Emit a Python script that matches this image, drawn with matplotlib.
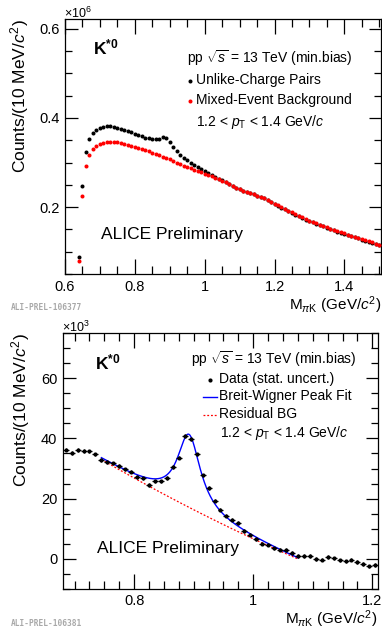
import numpy as np
import matplotlib
matplotlib.use("Agg")
import matplotlib.pyplot as plt
from matplotlib.ticker import MultipleLocator, FuncFormatter
from matplotlib.lines import Line2D

plt.rcParams['font.family'] = ['Liberation Sans', 'DejaVu Sans']
plt.rcParams['mathtext.fontset'] = 'custom'
plt.rcParams['mathtext.rm'] = 'Liberation Sans'
plt.rcParams['mathtext.it'] = 'Liberation Sans:italic'
plt.rcParams['mathtext.bf'] = 'Liberation Sans:bold'

# ---------------- data: top panel (x10^6 counts) ----------------
mass_top = [0.64, 0.65, 0.66, 0.67, 0.68, 0.69, 0.70, 0.71, 0.72, 0.73,
            0.74, 0.75, 0.76, 0.77, 0.78, 0.79, 0.80, 0.81, 0.82, 0.83,
            0.84, 0.85, 0.86, 0.87, 0.88, 0.89, 0.90, 0.91, 0.92, 0.93,
            0.94, 0.95, 0.96, 0.97, 0.98, 0.99, 1.00, 1.01, 1.02, 1.03,
            1.04, 1.05, 1.06, 1.07, 1.08, 1.09, 1.10, 1.11, 1.12, 1.13,
            1.14, 1.15, 1.16, 1.17, 1.18, 1.19, 1.20, 1.21, 1.22, 1.23,
            1.24, 1.25, 1.26, 1.27, 1.28, 1.29, 1.30, 1.31, 1.32, 1.33,
            1.34, 1.35, 1.36, 1.37, 1.38, 1.39, 1.40, 1.41, 1.42, 1.43,
            1.44, 1.45, 1.46, 1.47, 1.48, 1.49, 1.50]
unlike = [0.089, 0.248, 0.324, 0.352, 0.366, 0.373, 0.377, 0.380, 0.381, 0.381,
          0.380, 0.378, 0.376, 0.374, 0.371, 0.368, 0.365, 0.362, 0.359, 0.356,
          0.354, 0.352, 0.352, 0.353, 0.357, 0.355, 0.346, 0.336, 0.326, 0.318,
          0.311, 0.305, 0.299, 0.295, 0.290, 0.286, 0.281, 0.277, 0.272, 0.268,
          0.264, 0.260, 0.256, 0.252, 0.248, 0.244, 0.240, 0.237, 0.234, 0.231,
          0.229, 0.226, 0.223, 0.220, 0.216, 0.212, 0.207, 0.203, 0.199, 0.195,
          0.191, 0.187, 0.183, 0.179, 0.176, 0.172, 0.169, 0.166, 0.163, 0.160,
          0.157, 0.154, 0.151, 0.148, 0.145, 0.143, 0.140, 0.137, 0.135, 0.132,
          0.130, 0.127, 0.125, 0.122, 0.120, 0.117, 0.115]
mixed = [0.080, 0.225, 0.292, 0.318, 0.330, 0.337, 0.341, 0.344, 0.345, 0.346,
         0.346, 0.345, 0.344, 0.342, 0.340, 0.338, 0.336, 0.333, 0.331, 0.328,
         0.325, 0.322, 0.319, 0.316, 0.313, 0.310, 0.307, 0.304, 0.300, 0.297,
         0.293, 0.290, 0.287, 0.284, 0.281, 0.278, 0.275, 0.272, 0.269, 0.266,
         0.263, 0.259, 0.256, 0.252, 0.248, 0.244, 0.240, 0.237, 0.234, 0.231,
         0.229, 0.226, 0.223, 0.220, 0.216, 0.212, 0.208, 0.204, 0.200, 0.196,
         0.192, 0.188, 0.184, 0.180, 0.177, 0.173, 0.170, 0.167, 0.164, 0.161,
         0.158, 0.155, 0.152, 0.149, 0.146, 0.144, 0.141, 0.138, 0.136, 0.133,
         0.131, 0.128, 0.126, 0.123, 0.121, 0.118, 0.116]

# ---------------- data: bottom panel (x10^3 counts) ----------------
mass_bot = [0.685, 0.695, 0.705, 0.715, 0.725, 0.735, 0.745, 0.755, 0.765, 0.775,
            0.785, 0.795, 0.805, 0.815, 0.825, 0.835, 0.845, 0.855, 0.865, 0.875,
            0.885, 0.895, 0.905, 0.915, 0.925, 0.935, 0.945, 0.955, 0.965, 0.975,
            0.985, 0.995, 1.005, 1.015, 1.025, 1.035, 1.045, 1.055, 1.065, 1.075,
            1.085, 1.095, 1.105, 1.115, 1.125, 1.135, 1.145, 1.155, 1.165, 1.175,
            1.185, 1.195, 1.205]
signal = [36.3, 35.2, 36.1, 35.9, 35.7, 34.7, 32.8, 32.1, 31.7, 30.8,
          29.7, 29.0, 27.1, 26.7, 24.6, 25.7, 25.7, 26.9, 30.6, 33.6,
          40.8, 39.9, 34.7, 27.7, 23.6, 19.3, 16.3, 14.3, 13.0, 11.9,
          9.3, 8.0, 6.6, 5.0, 4.7, 3.4, 3.0, 2.8, 1.9, 0.8,
          0.8, 0.8, -0.1, -0.3, 0.6, 0.1, -0.6, -0.9, -0.3, -1.2,
          -1.7, -2.6, -2.1]
stat_err = 0.6
bin_half = 0.005

# fit parameters (Breit-Wigner + quadratic residual background)
fit_range = (0.745, 1.075)
bw_mass = 0.892
bw_width = 0.047
bw_amp = 24.3
bg_x0 = 0.745
bg_coef = (33.0, -114.7, 43.75)

W, H = 382, 630
fig = plt.figure(figsize=(W / 100, H / 100), dpi=100)


def fx(px):
    return px / W


def fy(py):
    return 1 - py / H


def style_axes(ax, xmaj, xmin, ymaj, ymin):
    ax.xaxis.set_major_locator(MultipleLocator(xmaj))
    ax.xaxis.set_minor_locator(MultipleLocator(xmin))
    ax.yaxis.set_major_locator(MultipleLocator(ymaj))
    ax.yaxis.set_minor_locator(MultipleLocator(ymin))
    ax.tick_params(which='both', direction='in', top=True, right=True,
                   width=0.9, labelsize=10.5, pad=4)
    ax.tick_params(axis='x', which='major', length=11)
    ax.tick_params(axis='x', which='minor', length=5.5)
    ax.tick_params(axis='y', which='major', length=9)
    ax.tick_params(axis='y', which='minor', length=5)
    for s in ax.spines.values():
        s.set_linewidth(0.9)


def fmt(v, pos):
    s = f"{v:.1f}"
    if abs(v - round(v)) < 1e-9:
        s = f"{int(round(v))}"
    return s


# ---------------- top panel ----------------
ax1 = fig.add_axes([fx(65), fy(274), fx(381) - fx(65), fy(19) - fy(274)])
ax1.plot(mass_top, unlike, 'o', color='black', ms=2.9, mew=0, zorder=3)
ax1.plot(mass_top, mixed, 'o', color='#ff0000', ms=2.9, mew=0, zorder=4)
ax1.set_xlim(0.6, 1.505)
ax1.set_ylim(0.05, 0.622)
style_axes(ax1, 0.2, 0.05, 0.2, 0.05)
ax1.xaxis.set_major_formatter(FuncFormatter(fmt))
ax1.yaxis.set_major_formatter(FuncFormatter(lambda v, p: f"{v:.1f}"))
ax1.set_ylabel(r"Counts/(10 MeV/$c^{2}$)", fontsize=12.5, loc='top', labelpad=6)
ax1.set_xlabel(r"M$_{\pi\mathrm{K}}$ (GeV/$c^{2}$)", fontsize=11, loc='right', labelpad=0.5)

fig.text(fx(64), fy(13), r"$\times10^{6}$", fontsize=9, ha='left', va='center')
fig.text(fx(93), fy(47), r"$\mathbf{K^{*0}}$", fontsize=12.5, ha='left', va='center')
fig.text(fx(187), fy(58), r"pp $\sqrt{s}$ = 13 TeV (min.bias)", fontsize=10, ha='left', va='center')
fig.text(fx(196), fy(80), "Unlike-Charge Pairs", fontsize=10, ha='left', va='center')
fig.text(fx(196), fy(100), "Mixed-Event Background", fontsize=10, ha='left', va='center')
fig.text(fx(196), fy(122), r"1.2 < $p_{\mathrm{T}}$ < 1.4 GeV/$c$", fontsize=10, ha='left', va='center')
fig.add_artist(Line2D([fx(189.5)], [fy(81)], marker='o', color='black', ms=2.9, mew=0, lw=0))
fig.add_artist(Line2D([fx(189.5)], [fy(101)], marker='o', color='#ff0000', ms=2.9, mew=0, lw=0))
fig.text(fx(101), fy(234), "ALICE Preliminary", fontsize=12.5, ha='left', va='center')
fig.text(fx(11), fy(307), "ALI-PREL-106377", fontsize=5.7, ha='left', va='center',
         family='DejaVu Sans Mono', color='#a8a8a8', weight='bold')

# ---------------- bottom panel ----------------
ax2 = fig.add_axes([fx(62.7), fy(588.7), fx(377.7) - fx(62.7), fy(333.3) - fy(588.7)])
ax2.errorbar(mass_bot, signal, xerr=bin_half, yerr=stat_err, fmt='o', color='black',
             ms=3.0, mew=0, elinewidth=0.9, capsize=0, zorder=4)
xf = np.linspace(fit_range[0], fit_range[1], 400)
u = xf - bg_x0
bg = bg_coef[0] + bg_coef[1] * u + bg_coef[2] * u ** 2
g2 = (bw_width / 2) ** 2
bw = bw_amp * g2 / ((xf - bw_mass) ** 2 + g2)
ax2.plot(xf, bg + bw, color='#0000ff', lw=1.0, zorder=3)
ax2.plot(xf, bg, color='#ff0000', lw=0.9, ls=(0, (1.5, 1.5)), zorder=2)
ax2.set_xlim(0.68, 1.209)
ax2.set_ylim(-10, 75)
style_axes(ax2, 0.2, 0.025, 20, 5)
ax2.xaxis.set_major_formatter(FuncFormatter(fmt))
ax2.yaxis.set_major_formatter(FuncFormatter(lambda v, p: f"{int(round(v))}"))
ax2.set_ylabel(r"Counts/(10 MeV/$c^{2}$)", fontsize=12.5, loc='top', labelpad=6)
ax2.set_xlabel(r"M$_{\pi\mathrm{K}}$ (GeV/$c^{2}$)", fontsize=11, loc='right', labelpad=0)

fig.text(fx(62), fy(327), r"$\times10^{3}$", fontsize=9, ha='left', va='center')
fig.text(fx(95), fy(362), r"$\mathbf{K^{*0}}$", fontsize=12.5, ha='left', va='center')
fig.text(fx(191), fy(359), r"pp $\sqrt{s}$ = 13 TeV (min.bias)", fontsize=10, ha='left', va='center')
fig.text(fx(219), fy(379), "Data (stat. uncert.)", fontsize=10, ha='left', va='center')
fig.text(fx(219), fy(396), "Breit-Wigner Peak Fit", fontsize=10, ha='left', va='center')
fig.text(fx(219), fy(414), "Residual BG", fontsize=10, ha='left', va='center')
fig.text(fx(220), fy(433), r"1.2 < $p_{\mathrm{T}}$ < 1.4 GeV/$c$", fontsize=10, ha='left', va='center')
fig.add_artist(Line2D([fx(209.5)], [fy(380)], marker='o', color='black', ms=3.0, mew=0, lw=0))
fig.add_artist(Line2D([fx(203), fx(217)], [fy(396.5), fy(396.5)], color='#0000ff', lw=1.0))
fig.add_artist(Line2D([fx(203), fx(217)], [fy(414.5), fy(414.5)], color='#ff0000', lw=0.9,
                      ls=(0, (1.5, 1.5))))
fig.text(fx(97), fy(549), "ALICE Preliminary", fontsize=12.5, ha='left', va='center')
fig.text(fx(11), fy(623), "ALI-PREL-106381", fontsize=5.7, ha='left', va='center',
         family='DejaVu Sans Mono', color='#a8a8a8', weight='bold')

fig.savefig("out.png", dpi=100)
